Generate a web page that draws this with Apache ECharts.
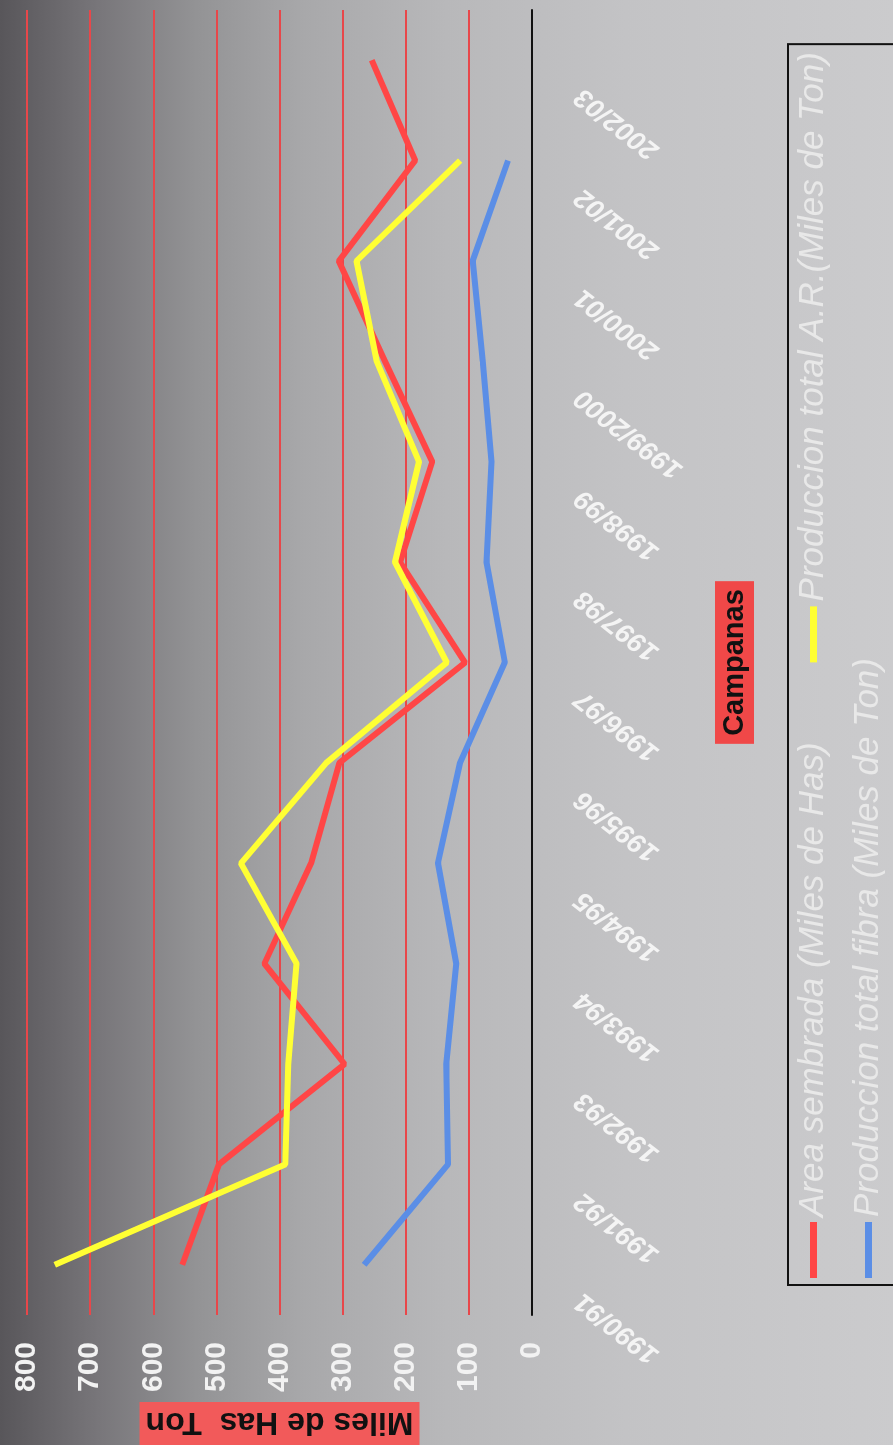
<!DOCTYPE html>
<html>
<head>
<meta charset="utf-8">
<title>Campanas</title>
<script src="https://cdn.jsdelivr.net/npm/echarts@6/dist/echarts.min.js"></script>
<style>
  html, body { margin: 0; padding: 0; width: 893px; height: 1445px; overflow: hidden; background: #b8b8ba; }
  /* the chart is drawn upright (1445 x 893) and turned a quarter turn left */
  #chart {
    position: absolute; left: 0; top: 0;
    width: 1445px; height: 893px;
    transform-origin: 0 0;
    transform: translateY(1445px) rotate(-90deg);
  }
</style>
</head>
<body>
<div id="chart"></div>
<script>
const campanas = ['1990/91', '1991/92', '1992/93', '1993/94', '1994/95', '1995/96', '1996/97',
  '1997/98', '1998/99', '1999/2000', '2000/01', '2001/02', '2002/03'];
const areaSembrada = [554, 496, 297, 424, 350, 305, 106, 209, 158, 233, 306, 185, 254];
const produccionAR = [756, 391, 386, 373, 461, 326, 135, 217, 179, 246, 278, 114, null];
const produccionFibra = [266, 133, 136, 120, 149, 114, 43, 72, 64, 78, 94, 38, null];
const valueTicks = { min: 0, max: 800, step: 100 };

const chart = echarts.init(document.getElementById('chart'));

const font = 'Liberation Sans, Arial, sans-serif';

const options = {
  backgroundColor: {
    type: 'linear', x: 0, y: 0, x2: 0, y2: 1,
    colorStops: [
      { offset: 0, color: '#58565a' },
      { offset: 0.11, color: '#78767a' },
      { offset: 0.22, color: '#939395' },
      { offset: 0.34, color: '#a8a8aa' },
      { offset: 0.5, color: '#b8b8ba' },
      { offset: 0.7, color: '#c3c3c5' },
      { offset: 1, color: '#cbcbcd' }
    ]
  },
  textStyle: { fontFamily: font },
  grid: { left: 130, right: 10, top: 27, bottom: 361, outerBoundsMode: 'none' },
  legend: {
    left: 160, top: 788, width: 1240,
    padding: [8, 8, 14, 7],
    borderColor: '#111', borderWidth: 2,
    icon: 'rect', itemWidth: 56, itemHeight: 7, itemGap: 20,
    textStyle: {
      color: '#e8e8e8', fontSize: 35, fontStyle: 'italic', fontFamily: font,
      lineHeight: 30
    },
    data: [
      { name: 'Area sembrada (Miles de Has)', textStyle: { padding: [0, 60, 0, 0] } },
      'Produccion total A.R.(Miles de Ton)',
      'Produccion total fibra (Miles de Ton)'
    ]
  },
  xAxis: {
    type: 'category',
    data: campanas,
    boundaryGap: true,
    axisLine: { lineStyle: { color: '#111', width: 2 } },
    axisTick: { length: 10, lineStyle: { color: '#111', width: 2 } },
    axisLabel: {
      interval: 0, rotate: 52, margin: 4,
      color: '#f4f4f4', fontSize: 27, fontWeight: 'bold', fontStyle: 'italic',
      padding: [0, 54, 0, 0]
    },
    name: 'Campanas',
    nameLocation: 'middle',
    nameGap: 183,
    nameMoveOverlap: false,
    nameTextStyle: {
      color: '#111', fontSize: 29, fontWeight: 'bold',
      backgroundColor: '#f04848', padding: [5, 8]
    }
  },
  yAxis: {
    type: 'value',
    min: valueTicks.min, max: valueTicks.max, interval: valueTicks.step,
    axisLine: { show: false },
    axisTick: { show: false },
    axisLabel: { color: '#f2f2f2', fontSize: 30, fontWeight: 'bold', margin: 27 },
    splitLine: { lineStyle: { color: '#e8474a', width: 2 } },
    name: 'Miles de Has  Ton',
    nameLocation: 'middle',
    nameRotate: 90,
    nameGap: 87,
    nameMoveOverlap: false,
    nameTextStyle: {
      color: '#111', fontSize: 32, fontWeight: 'bold',
      backgroundColor: '#f25a5a', padding: [8, 6, 4, 6]
    }
  },
  series: [
    {
      name: 'Area sembrada (Miles de Has)',
      type: 'line', data: areaSembrada, symbol: 'none',
      color: '#ff4646', lineStyle: { width: 6 }
    },
    {
      name: 'Produccion total A.R.(Miles de Ton)',
      type: 'line', data: produccionAR, symbol: 'none',
      color: '#ffff33', lineStyle: { width: 6 }
    },
    {
      name: 'Produccion total fibra (Miles de Ton)',
      type: 'line', data: produccionFibra, symbol: 'none',
      color: '#5b8ee6', lineStyle: { width: 6 }
    }
  ]
};

chart.setOption(options);
</script>
</body>
</html>
